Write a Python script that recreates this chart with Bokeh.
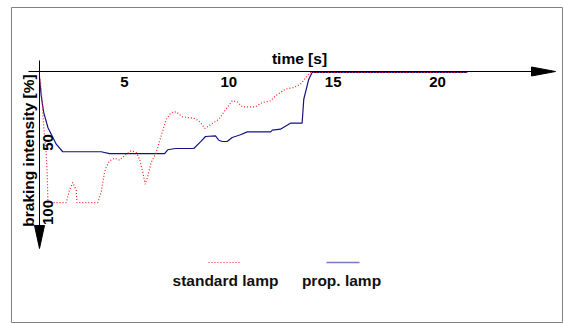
import math
from bokeh.plotting import figure
from bokeh.models import Range1d, FixedTicker, Label
from bokeh.embed import file_html
from bokeh.resources import INLINE

# ---------------- data ----------------
std_time = [0.93, 0.98, 1.06, 1.13, 1.24, 1.30, 1.33, 2.21, 2.36, 2.52, 2.69, 2.72,
            3.72, 3.88, 4.04, 4.12, 4.28, 4.52, 4.76, 5.00, 5.32, 5.56, 5.72, 5.88,
            5.99, 6.12, 6.28, 6.52, 6.76, 7.00, 7.24, 7.48, 7.76, 8.40, 8.64, 8.85,
            9.04, 9.52, 9.92, 10.16, 10.40, 10.64, 11.28, 11.60, 12.00, 12.24, 12.71,
            13.11, 13.43, 13.75, 13.91, 21.43]
std_intensity = [2.9, 7.1, 22.1, 39.3, 55.7, 73.6, 92.9, 92.9, 84.3, 78.6, 84.3, 92.9,
                 92.9, 85.7, 71.4, 67.9, 63.1, 61.2, 62.6, 59.5, 55.9, 57.1, 61.9, 71.4,
                 79.8, 73.8, 64.3, 57.1, 45.2, 33.4, 28.6, 28.1, 31.6, 32.9, 35.7, 40.0,
                 38.1, 33.4, 25.0, 20.2, 20.9, 24.5, 24.5, 21.4, 20.2, 16.6, 11.9,
                 10.7, 8.4, 2.4, 0.0, 0.0]

prop_time = [0.93, 1.01, 1.13, 1.33, 1.49, 1.73, 2.04, 3.88, 4.28, 6.92, 7.07, 7.44,
             8.32, 8.64, 8.88, 9.36, 9.52, 9.68, 9.92, 10.16, 10.56, 10.88, 12.00,
             12.08, 12.47, 12.95, 13.51, 13.59, 13.83, 13.99, 21.43]
prop_intensity = [4.0, 16.6, 28.6, 39.3, 44.1, 51.2, 56.6, 56.6, 57.9, 57.9, 55.2, 54.3,
                  54.3, 49.5, 45.7, 45.2, 48.4, 49.3, 49.3, 46.4, 44.5, 42.4, 42.4,
                  41.2, 40.5, 36.2, 36.2, 19.1, 4.8, 0.0, 0.0]

x_ticks = [5, 10, 15, 20]
y_ticks = [50, 100]
x_title = "time [s]"
y_title = "braking intensity [%]"
series_names = ["standard lamp", "prop. lamp"]

# ---------------- layout helpers ----------------
W, H = 564, 323
FL, FT, FR = 11, 7, 2
FW, FH = W - FL - FR, H - FT
X0, X1 = -0.4145, 25.987
YT, YB = -46.43, 179.29


def dx(px):
    return X0 + (px - FL) / FW * (X1 - X0)


def dy(py):
    return YT + (py - FT) / FH * (YB - YT)


FONT = "Liberation Sans"
STD_COLOR = "#ff1a1a"
PROP_COLOR = "#14147f"

p = figure(width=W, height=H, output_backend="svg", toolbar_location=None,
           x_range=Range1d(X0, X1), y_range=Range1d(YB, YT),
           x_axis_location="below", y_axis_location="left",
           min_border_left=FL, min_border_top=FT, min_border_right=FR,
           min_border_bottom=0)
p.grid.visible = False
p.background_fill_color = "white"
p.border_fill_color = "white"
p.outline_line_color = "#808080"
p.outline_line_width = 1

# x axis (through the top, tick labels below)
xa = p.xaxis[0]
xa.fixed_location = -0.8
xa.ticker = FixedTicker(ticks=x_ticks)
xa.major_tick_line_color = None
xa.minor_tick_line_color = None
xa.major_tick_out = 0
xa.major_tick_in = 0
xa.major_label_standoff = 6
xa.major_label_text_font = FONT
xa.major_label_text_font_style = "bold"
xa.major_label_text_font_size = "15px"
xa.major_label_text_color = "black"
xa.axis_line_color = "black"
xa.axis_line_width = 1
xa.bounds = (dx(28), dx(533))

# y axis (downwards, rotated labels placed on the right of the line)
ya = p.yaxis[0]
ya.fixed_location = dx(39)
ya.ticker = FixedTicker(ticks=y_ticks)
ya.major_tick_line_color = None
ya.minor_tick_line_color = None
ya.major_tick_out = 0
ya.major_tick_in = 0
ya.major_label_standoff = -14
ya.major_label_orientation = "parallel"
ya.major_label_text_font = FONT
ya.major_label_text_font_style = "bold"
ya.major_label_text_font_size = "15px"
ya.major_label_text_color = "black"
ya.axis_line_color = "black"
ya.axis_line_width = 1
ya.bounds = (dy(60), dy(228))

# arrow heads of the axes
p.patch(x=[dx(531), dx(555), dx(531)], y=[dy(66.5), dy(71), dy(75.5)],
        fill_color="black", line_color="black")
p.patch(x=[dx(34), dx(39), dx(44)], y=[dy(225), dy(248), dy(225)],
        fill_color="black", line_color="black")

# series
p.line(prop_time, prop_intensity, line_color=PROP_COLOR, line_width=1.2)
p.line(std_time, std_intensity, line_color=STD_COLOR, line_width=1.2,
       line_dash="1 2")

# axis titles
p.add_layout(Label(x=dx(299), y=dy(57.5), text=x_title, text_align="center",
                   text_baseline="middle", text_font=FONT, text_font_style="bold",
                   text_font_size="15.5px", text_color="black"))
p.add_layout(Label(x=dx(27.5), y=dy(150), text=y_title, angle=math.pi / 2,
                   text_align="center", text_baseline="middle", text_font=FONT,
                   text_font_style="bold", text_font_size="15.5px",
                   text_color="black"))

# legend (sample line above the name)
p.line([dx(208), dx(240)], [dy(262), dy(262)], line_color=STD_COLOR,
       line_width=1.2, line_dash="1 2")
p.line([dx(326), dx(359)], [dy(262), dy(262)], line_color="#7a7ac4",
       line_width=1.5)
p.add_layout(Label(x=dx(225), y=dy(280), text=series_names[0], text_align="center",
                   text_baseline="alphabetic", text_font=FONT,
                   text_font_style="bold", text_font_size="15.5px",
                   text_color="#111111"))
p.add_layout(Label(x=dx(341), y=dy(280), text=series_names[1], text_align="center",
                   text_baseline="alphabetic", text_font=FONT,
                   text_font_style="bold", text_font_size="15.5px",
                   text_color="#111111"))

open("out.html", "w").write(file_html(p, INLINE))
